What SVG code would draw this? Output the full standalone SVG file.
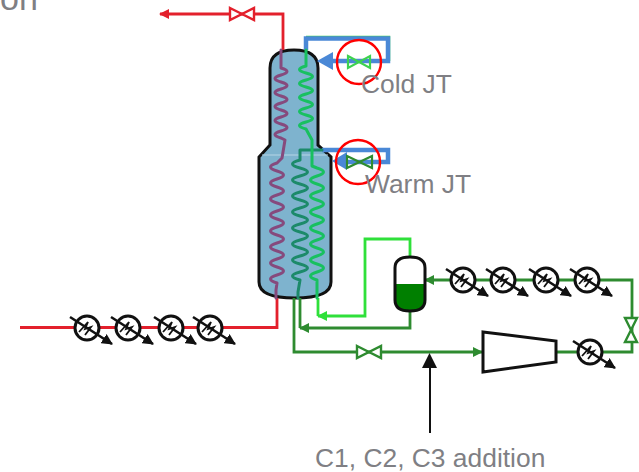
<svg xmlns="http://www.w3.org/2000/svg" xmlns:xlink="http://www.w3.org/1999/xlink" width="639" height="472" viewBox="0 0 639 472">
<style>
.line{fill:none;stroke-linejoin:miter}
.red{stroke:#e3202c;stroke-width:2.8}
.dk{stroke:#2e8b30;stroke-width:2.8}
.lt{stroke:#2fe03a;stroke-width:2.8}
.blue{fill:none;stroke:#4a88d6;stroke-width:4.5}
.zig{fill:none;stroke-width:3;stroke-linejoin:round;stroke-linecap:round}
.lbl{font-family:"Liberation Sans",Arial,sans-serif;font-size:26.400px;fill:#7f7f84}
.hxc{fill:#fff;stroke:#111;stroke-width:3}
.hxn{fill:none;stroke:#111;stroke-width:2.600}
.hxs{fill:none;stroke:#111;stroke-width:1.800}
.eq{stroke:#111;stroke-width:3}
</style>
<defs>
<marker id="ar" markerUnits="userSpaceOnUse" markerWidth="10" markerHeight="10" refX="9" refY="5" orient="auto"><path d="M0,0L10,5L0,10Z" fill="#e3202c"/></marker>
<marker id="ad" markerUnits="userSpaceOnUse" markerWidth="10" markerHeight="10" refX="9" refY="5" orient="auto"><path d="M0,0L10,5L0,10Z" fill="#2e8b30"/></marker>
<marker id="al" markerUnits="userSpaceOnUse" markerWidth="10" markerHeight="10" refX="9" refY="5" orient="auto"><path d="M0,0L10,5L0,10Z" fill="#2fe03a"/></marker>
<marker id="ak" markerUnits="userSpaceOnUse" markerWidth="11" markerHeight="11" refX="10" refY="5.500" orient="auto"><path d="M0,0L11,5.500L0,11Z" fill="#111"/></marker>
<g id="hx">
<circle class="hxc" r="12"/>
<path class="hxs" d="M-8,4L1,-6L-2,1L4,-1L-2,7"/>
<path class="hxn" d="M-17,-11L25,16" marker-end="url(#ak)"/>
</g>
</defs>

<text class="lbl" x="0" y="10" style="font-size:34px">on</text>

<g id="vessel">
<path d="M270,145V68Q270,50 294,50Q318,50 318,68V145L331,157V282Q331,298 295,298Q259,298 259,282V157Z" fill="#7eb3ce" stroke="#111" stroke-width="3"/>
<path d="M262,155H328" stroke="#b5d6e6" stroke-width="1.200" fill="none"/>
</g>

<g id="connectors">
<path class="line red" d="M283,50V14H160" marker-end="url(#ar)"/>
<path class="line red" d="M20,327.500H277V298"/>
<path class="line dk" d="M294,298V352H482" marker-end="url(#ad)"/>
<path class="line dk" d="M410,311V328H300" marker-end="url(#ad)"/>
<path class="line dk" d="M300,298V328"/>
<path class="line lt" d="M410,257V239H365V316H318" marker-end="url(#al)"/>
<path class="line lt" d="M318,298V316"/>
<path class="line dk" d="M556,352H632V280H425" marker-end="url(#ad)"/>
<path d="M306,36.500H389.500V61" fill="none" stroke="#3dd24f" stroke-width="1.500"/>
<path class="blue" d="M306,50V38.500H388V61H330"/>
<path d="M317,61L333,52V70Z" fill="#4a88d6"/>
<path class="blue" d="M322,150H388V162H345"/>
<path d="M332,161L347,152V170Z" fill="#4a88d6"/>
<path d="M430,433V366" fill="none" stroke="#111" stroke-width="2"/>
<path d="M429.500,353L437,368H422Z" fill="#111"/>
</g>

<g id="coil-purple">
<path class="zig" stroke="#864a7d" d="M281,50V68q12,3.500 0,7t0,7t0,7t0,7t0,7t0,7t0,7t0,7t0,7t0,7L285,140L282,158L277,163q-13,4 0,8t0,8t0,8t0,8t0,8t0,8t0,8t0,8t0,8t0,8t0,8t0,8t0,8t0,8t0,8L276,290V298"/>
</g>
<g id="coil-teal">
<path class="zig" stroke="#1c8a6a" d="M322,150H300V160q-15,4 0,8t0,8t0,8t0,8t0,8t0,8t0,8t0,8t0,8t0,8t0,8t0,8t0,8t0,8t0,8L298,292V298"/>
</g>
<g id="coil-green">
<path class="zig" stroke="#18c060" d="M306,50V66q-13,3.500 0,7t0,7t0,7t0,7t0,7t0,7t0,7t0,7t0,7L312,140V166L317,168q13,4 0,8t0,8t0,8t0,8t0,8t0,8t0,8t0,8t0,8t0,8t0,8t0,8t0,8t0,8L317,298"/>
</g>

<g id="red-valve"><path d="M230,8L254,20V8L230,20Z" fill="#fff" stroke="#e3202c" stroke-width="2.400"/></g>
<g id="cold-jt">
<path d="M348,56L370,68V56L348,68Z" fill="none" stroke="#3dd24f" stroke-width="2.200"/>
<circle cx="359" cy="62" r="22" fill="none" stroke="#f00" stroke-width="2.400"/>
<text class="lbl" x="361" y="93">Cold JT</text>
</g>
<g id="warm-jt">
<path d="M347,156L372,168V156L347,168Z" fill="none" stroke="#2e8b30" stroke-width="2.200"/>
<circle cx="358" cy="162" r="22" fill="none" stroke="#f00" stroke-width="2.400"/>
<text class="lbl" x="365" y="193">Warm JT</text>
</g>
<g id="drum">
<path d="M395,284H425V303Q425,311 410,311Q395,311 395,303Z" fill="#007f00"/>
<path d="M395,268Q395,257 410,257Q425,257 425,268V300Q425,311 410,311Q395,311 395,300Z" fill="none" stroke="#111" stroke-width="3"/>
</g>
<g id="hx-left">
<use xlink:href="#hx" href="#hx" x="87" y="328"/>
<use xlink:href="#hx" href="#hx" x="128" y="328"/>
<use xlink:href="#hx" href="#hx" x="171" y="328"/>
<use xlink:href="#hx" href="#hx" x="210" y="328"/>
</g>
<g id="hx-right">
<use xlink:href="#hx" href="#hx" x="463" y="280"/>
<use xlink:href="#hx" href="#hx" x="503" y="280"/>
<use xlink:href="#hx" href="#hx" x="546" y="280"/>
<use xlink:href="#hx" href="#hx" x="587" y="280"/>
<use xlink:href="#hx" href="#hx" x="590" y="352"/>
</g>
<g id="valve-bottom"><path d="M357,346L381,358V346L357,358Z" fill="#fff" stroke="#2e8b30" stroke-width="2.400"/></g>
<g id="valve-right"><path d="M625,318L637,342H625L637,318Z" fill="#fff" stroke="#2e8b30" stroke-width="2.400"/></g>
<g id="compressor"><path class="eq" d="M483,332L556,341V362L483,372Z" fill="#fff"/></g>
<g id="addition"><text class="lbl" x="315" y="467">C1, C2, C3 addition</text></g>
</svg>
